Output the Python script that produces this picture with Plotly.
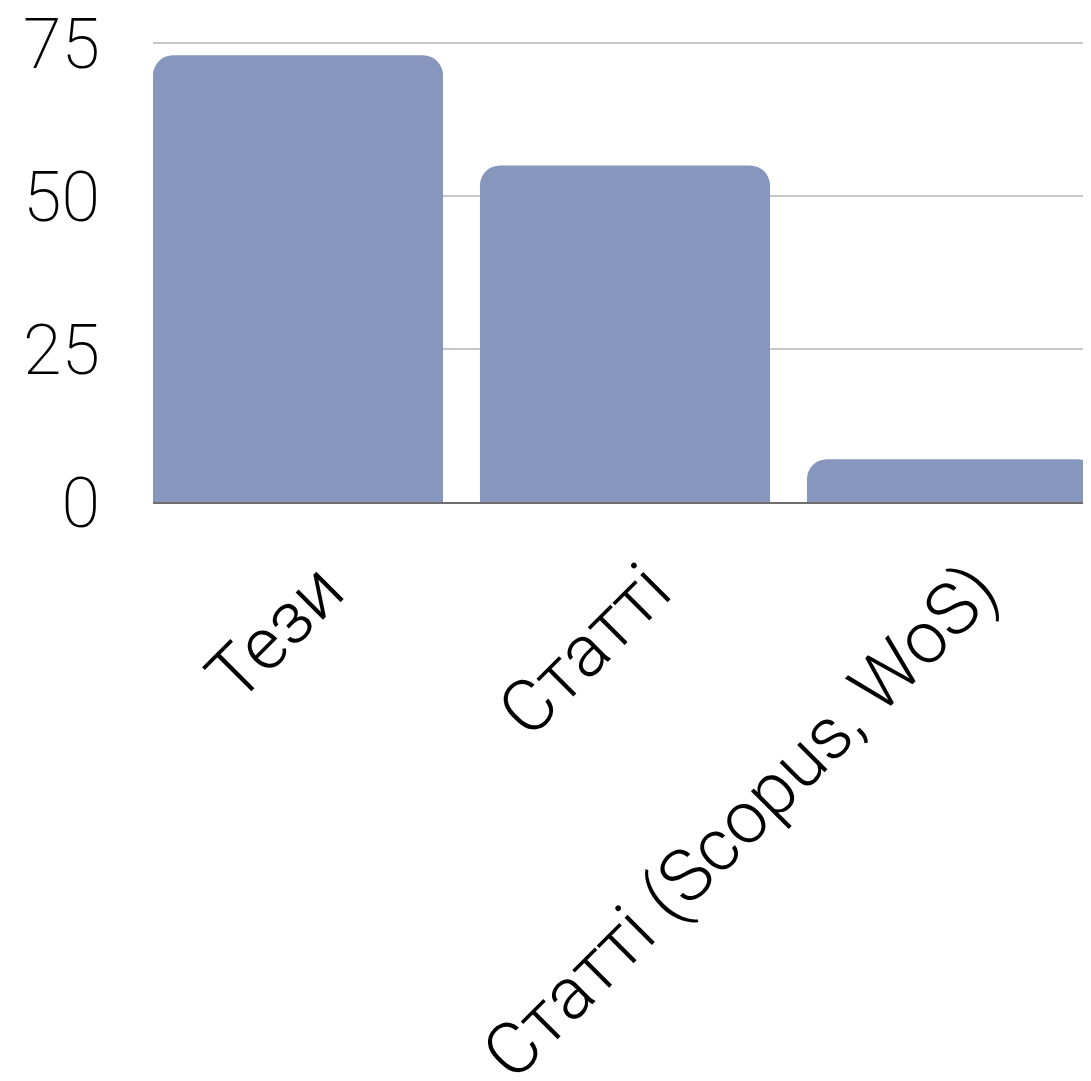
import plotly.graph_objects as go

categories = ["Тези", "Статті", "Статті (Scopus, WoS)"]
values = [73, 55, 7]
y_ticks = [0, 25, 50, 75]

fig = go.Figure(go.Bar(
    x=categories, y=values,
    marker=dict(color="#8696bd", cornerradius=20, line=dict(width=0)),
))

# page body has an 8px margin, so the figure is sized/positioned accordingly
fig.update_layout(
    width=1083, height=1073,
    margin=dict(l=145, r=0, t=32, b=579),
    plot_bgcolor="white", paper_bgcolor="white",
    bargap=0.113,
    showlegend=False,
    font=dict(family="Roboto", color="black"),
)
fig.update_xaxes(
    type="category",
    range=[-0.4434, 2.425],
    tickangle=-45,
    tickfont=dict(size=73, family="Roboto", weight=300),
    ticklabelshift=24,
    ticklabelstandoff=14,
    ticklabeloverflow="allow",
    showline=True, linecolor="#6e6e6e", linewidth=2,
    showgrid=False,
    automargin=False,
)
fig.update_yaxes(
    range=[0, 75.5],
    tickvals=y_ticks,
    tickfont=dict(size=70, family="Roboto", weight=200),
    showgrid=True, gridcolor="#c8c8c8", gridwidth=2,
    zeroline=False,
    ticklabelstandoff=52,
    ticklabeloverflow="allow",
    automargin=False,
)

fig.write_html("out.html")
